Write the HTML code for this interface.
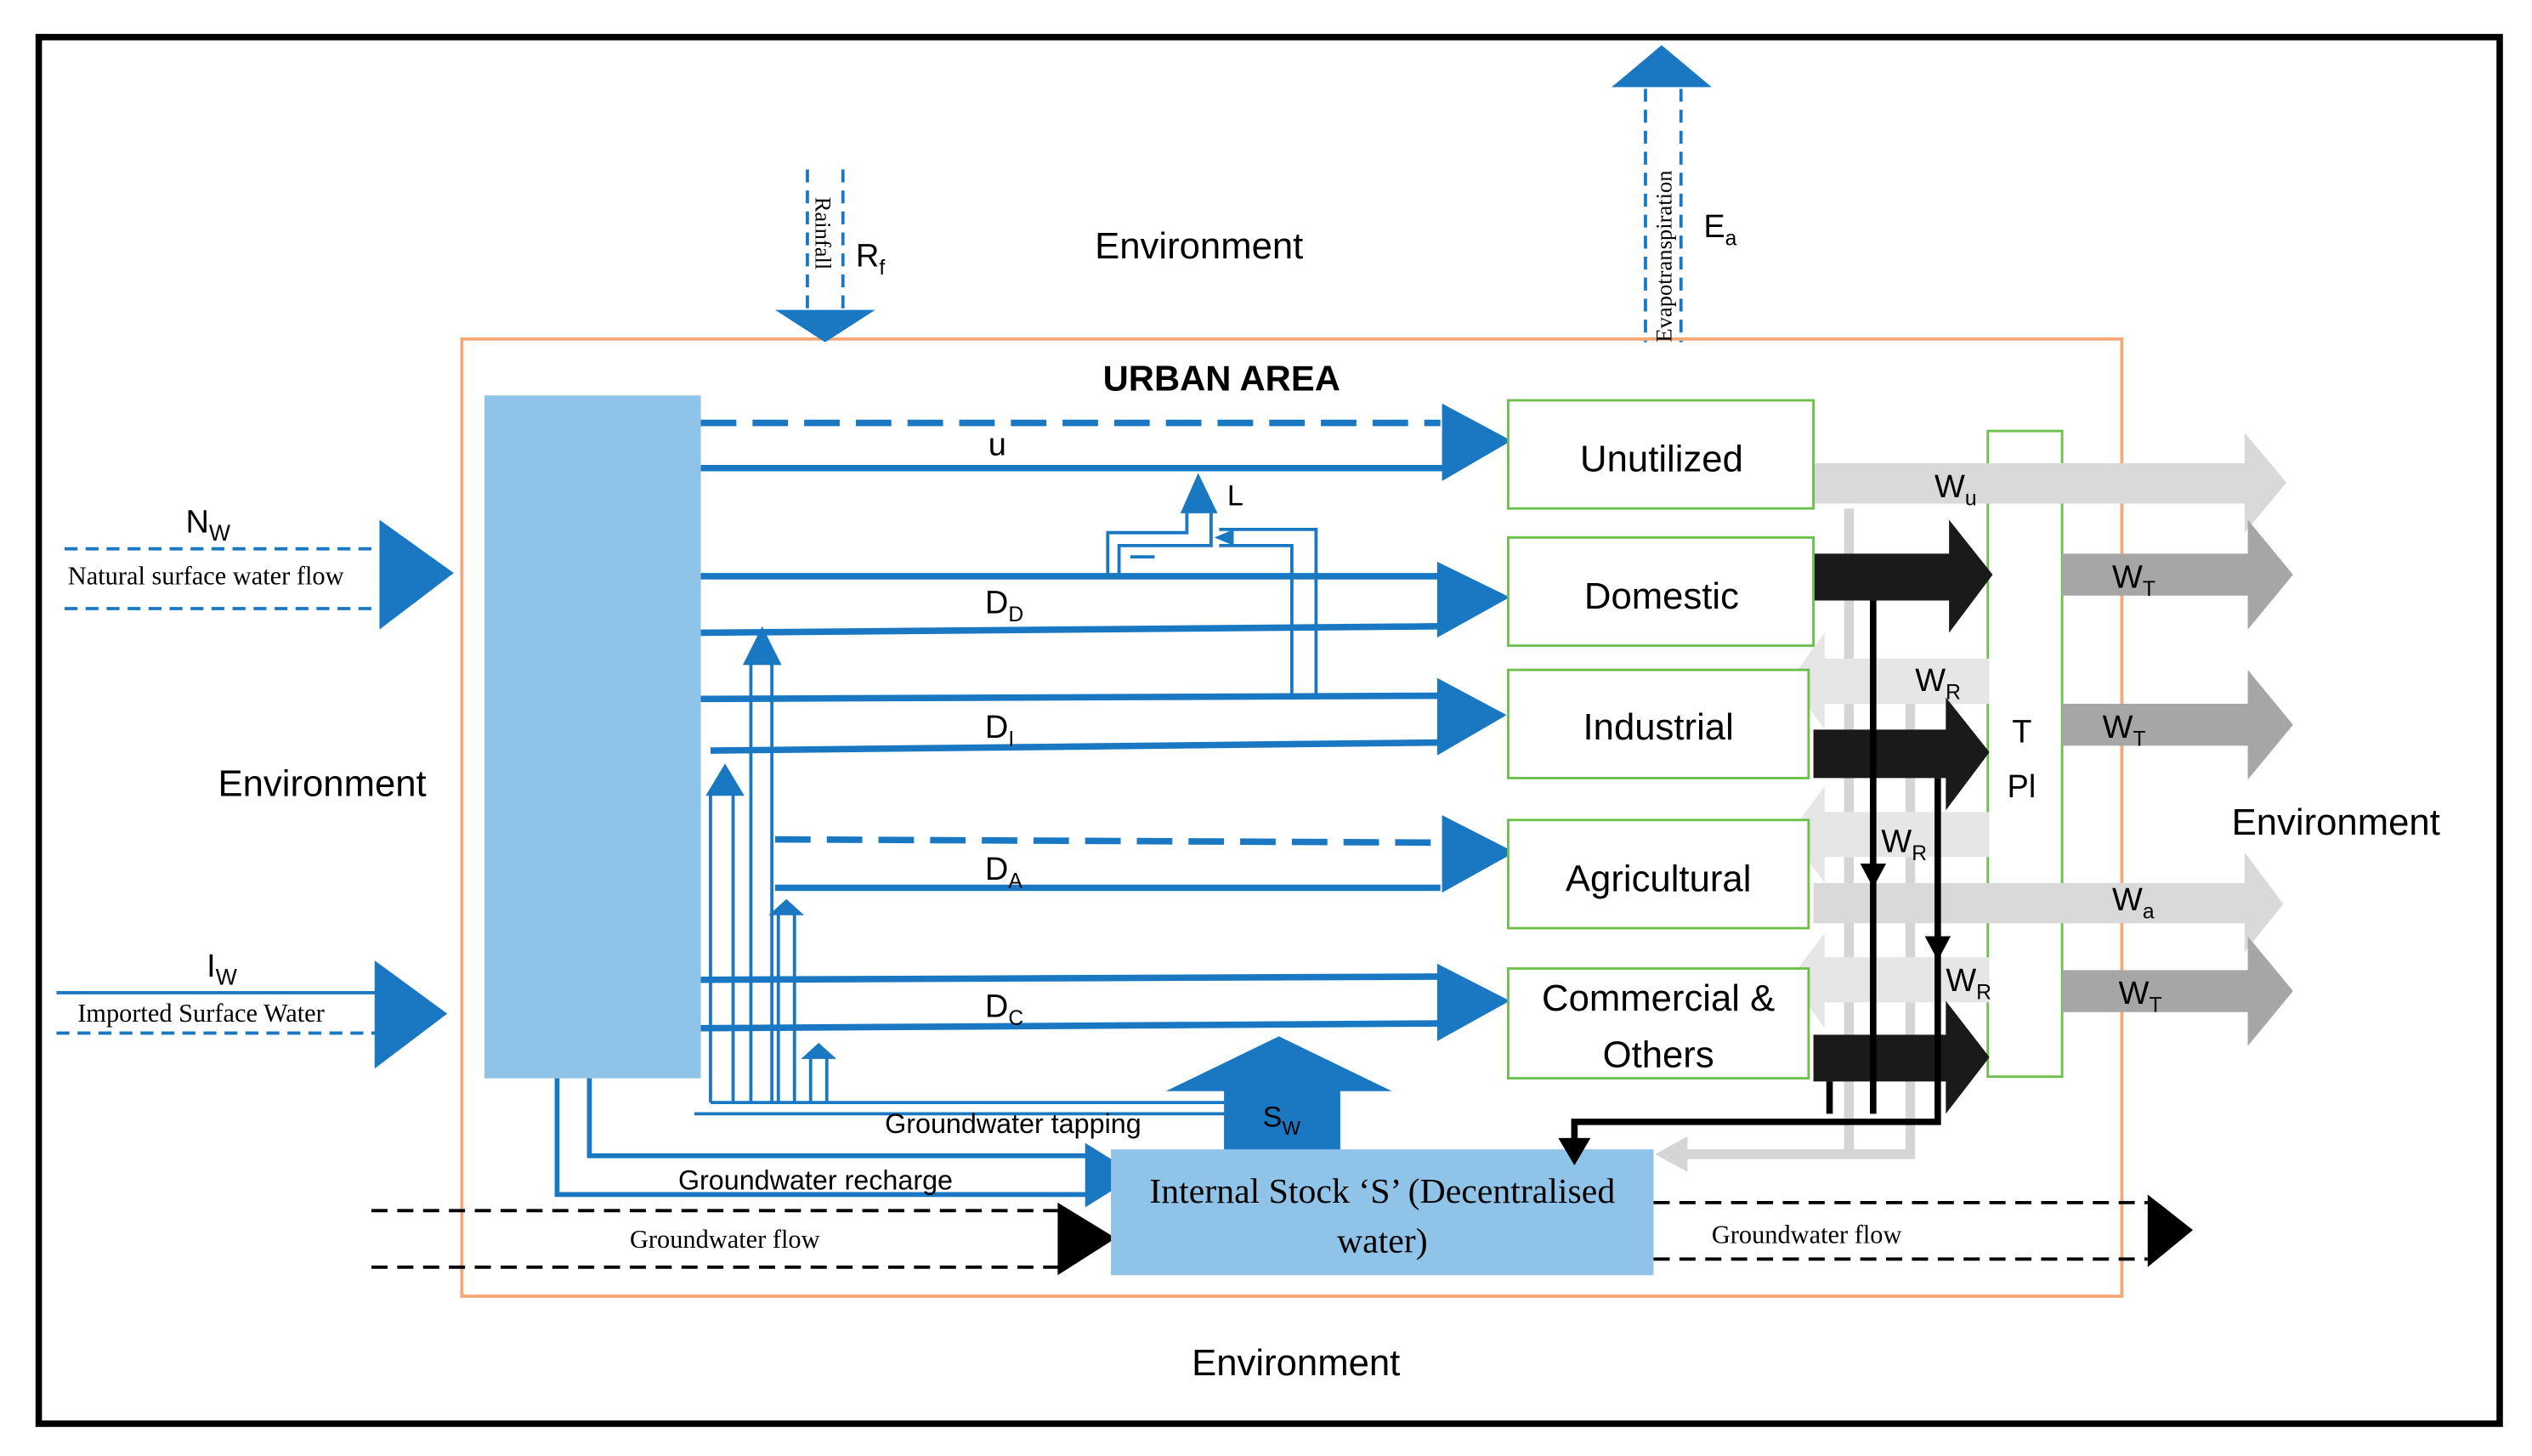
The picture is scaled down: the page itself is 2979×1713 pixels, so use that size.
<!DOCTYPE html>
<html><head><meta charset="utf-8"><style>
html,body{margin:0;padding:0;background:#fff;}
svg{display:block;}
text{font-family:"Liberation Sans",sans-serif;}
.s{font-family:"Liberation Serif",serif;}
</style></head><body>
<svg width="2979" height="1713" viewBox="0 0 1568 902" preserveAspectRatio="none" xmlns="http://www.w3.org/2000/svg">
<rect x="0" y="0" width="1568" height="902" fill="#fff"/>
<rect x="24" y="23" width="1524" height="859" fill="none" stroke="#000" stroke-width="4"/>
<rect x="286" y="210" width="1028" height="593" fill="none" stroke="#f4a878" stroke-width="2"/>

<!-- environment labels -->
<text x="678" y="160" font-size="23">Environment</text>
<text x="135" y="493" font-size="23">Environment</text>
<text x="1382" y="517" font-size="23">Environment</text>
<text x="738" y="852" font-size="23">Environment</text>
<text x="683" y="242" font-size="22" font-weight="bold">URBAN AREA</text>

<!-- Rainfall -->
<g stroke="#1a78c2" stroke-width="2" stroke-dasharray="8,5">
<line x1="500" y1="105" x2="500" y2="192"/><line x1="522" y1="105" x2="522" y2="192"/>
</g>
<polygon points="480,192 542,192 511,212" fill="#1a78c2"/>
<text class="s" x="0" y="0" font-size="14" transform="translate(505,122) rotate(90)">Rainfall</text>
<text x="530" y="165" font-size="20">R<tspan font-size="13" dy="5">f</tspan></text>

<!-- Evapotranspiration -->
<g stroke="#1a78c2" stroke-width="2" stroke-dasharray="8,5">
<line x1="1019" y1="55" x2="1019" y2="212"/><line x1="1041" y1="55" x2="1041" y2="212"/>
</g>
<polygon points="998,54 1060,54 1029,28" fill="#1a78c2"/>
<text class="s" x="0" y="0" font-size="14" transform="translate(1035,212) rotate(-90)">Evapotranspiration</text>
<text x="1055" y="147" font-size="20">E<tspan font-size="13" dy="5">a</tspan></text>

<!-- Nw -->
<g stroke="#1a78c2" stroke-width="2" stroke-dasharray="8,5">
<line x1="40" y1="340" x2="236" y2="340"/><line x1="40" y1="377" x2="236" y2="377"/>
</g>
<polygon points="235,322 281,355 235,390" fill="#1a78c2"/>
<text x="115" y="330" font-size="20">N<tspan font-size="14" dy="5">W</tspan></text>
<text class="s" x="42" y="362" font-size="16">Natural surface water flow</text>

<!-- Iw -->
<line x1="35" y1="615" x2="236" y2="615" stroke="#1a78c2" stroke-width="2"/>
<line x1="35" y1="640" x2="236" y2="640" stroke="#1a78c2" stroke-width="2" stroke-dasharray="8,5"/>
<polygon points="232,595 277,628 232,662" fill="#1a78c2"/>
<text x="128" y="605" font-size="20">I<tspan font-size="14" dy="5">W</tspan></text>
<text class="s" x="48" y="633" font-size="16">Imported Surface Water</text>

<!-- source block -->
<rect x="300" y="245" width="134" height="423" fill="#8fc3e8"/>

<!-- flow lines -->
<g stroke="#1a78c2" stroke-width="4">
<line x1="434" y1="262" x2="892" y2="262" stroke-dasharray="22,10"/>
<line x1="434" y1="290" x2="895" y2="290"/>
<line x1="434" y1="357" x2="892" y2="357"/>
<line x1="434" y1="392" x2="892" y2="388"/>
<line x1="434" y1="433" x2="892" y2="431"/>
<line x1="440" y1="465" x2="892" y2="460"/>
<line x1="480" y1="520" x2="892" y2="522" stroke-dasharray="22,10"/>
<line x1="480" y1="550" x2="892" y2="550"/>
<line x1="434" y1="607" x2="892" y2="605"/>
<line x1="434" y1="637" x2="892" y2="634"/>
</g>
<g fill="#1a78c2">
<polygon points="893,250 936,273 893,298"/>
<polygon points="890,348 935,370 890,395"/>
<polygon points="890,420 933,443 890,468"/>
<polygon points="893,505 938,528 893,553"/>
<polygon points="890,597 935,620 890,645"/>
</g>
<text x="612" y="282" font-size="20">u</text>
<text x="610" y="380" font-size="20">D<tspan font-size="13" dy="5">D</tspan></text>
<text x="610" y="457" font-size="20">D<tspan font-size="13" dy="5">I</tspan></text>
<text x="610" y="545" font-size="20">D<tspan font-size="13" dy="5">A</tspan></text>
<text x="610" y="630" font-size="20">D<tspan font-size="13" dy="5">C</tspan></text>

<!-- L feedback -->
<g stroke="#1a78c2" stroke-width="2" fill="none">
<polyline points="686,357 686,330 735,330 735,318"/>
<polyline points="693,357 693,338 750,338 750,318"/>
<polyline points="800,431 800,338 755,338"/>
<polyline points="815,431 815,328 755,328"/>
<polyline points="700,345 715,345"/>
</g>
<polygon points="731,318 754,318 742,293" fill="#1a78c2"/>
<polygon points="752,333 764,328 764,338" fill="#1a78c2"/>
<text x="760" y="313" font-size="18">L</text>

<!-- groundwater tapping risers -->
<g stroke="#1a78c2" stroke-width="2" fill="none">
<line x1="440" y1="683" x2="440" y2="490"/>
<line x1="454" y1="683" x2="454" y2="490"/>
<line x1="465" y1="683" x2="465" y2="408"/>
<line x1="478" y1="683" x2="478" y2="408"/>
<line x1="482" y1="683" x2="482" y2="565"/>
<line x1="492" y1="683" x2="492" y2="565"/>
<line x1="502" y1="683" x2="502" y2="655"/>
<line x1="512" y1="683" x2="512" y2="655"/>
<line x1="440" y1="683" x2="760" y2="683"/>
<line x1="430" y1="690" x2="760" y2="690"/>
</g>
<g fill="#1a78c2">
<polygon points="437,493 461,493 449,473"/>
<polygon points="460,412 484,412 472,388"/>
<polygon points="476,567 498,567 487,557"/>
<polygon points="496,656 518,656 507,646"/>
</g>
<text x="548" y="702" font-size="17">Groundwater tapping</text>

<!-- recharge -->
<g stroke="#1a78c2" stroke-width="3" fill="none">
<polyline points="345,668 345,740 680,740"/>
<polyline points="365,668 365,716 680,716"/>
</g>
<polygon points="672,708 704,728 672,748" fill="#1a78c2"/>
<text x="420" y="737" font-size="17">Groundwater recharge</text>

<!-- Sw arrow -->
<rect x="758" y="674" width="72" height="40" fill="#1a78c2"/>
<polygon points="722,676 792,642 862,676" fill="#1a78c2"/>
<text x="782" y="698" font-size="18">S<tspan font-size="12" dy="5">W</tspan></text>

<!-- groundwater flow -->
<g stroke="#000" stroke-width="2" stroke-dasharray="10,6">
<line x1="230" y1="750" x2="656" y2="750"/><line x1="230" y1="785" x2="656" y2="785"/>
<line x1="1024" y1="745" x2="1330" y2="745"/><line x1="1024" y1="780" x2="1330" y2="780"/>
</g>
<polygon points="655,745 691,767 655,790" fill="#000"/>
<polygon points="1330,740 1358,762 1330,785" fill="#000"/>
<text class="s" x="390" y="773" font-size="16">Groundwater flow</text>
<text class="s" x="1060" y="770" font-size="16">Groundwater flow</text>

<!-- internal stock -->
<rect x="688" y="712" width="336" height="78" fill="#8fc3e8"/>
<text class="s" x="856" y="745" font-size="22" text-anchor="middle">Internal Stock ‘S’ (Decentralised</text>
<text class="s" x="856" y="776" font-size="22" text-anchor="middle">water)</text>

<!-- gray lines back -->
<g stroke="#d5d5d5" stroke-width="6" fill="none">
<line x1="1145" y1="315" x2="1145" y2="715"/>
<polyline points="1183,430 1183,715 1040,715"/>
</g>
<polygon points="1045,704 1045,726 1025,715" fill="#d5d5d5"/>

<!-- TPl box -->
<rect x="1231" y="267" width="46" height="400" fill="none" stroke="#6cc04a" stroke-width="1.5"/>
<text x="1246" y="460" font-size="20">T</text>
<text x="1243" y="494" font-size="20">Pl</text>

<!-- output arrows gray -->
<g fill="#d9d9d9">
<polygon points="1123,287 1390,287 1390,268 1416,299 1390,330 1390,312 1123,312"/>
<polygon points="1123,547 1390,547 1390,528 1414,560 1390,590 1390,572 1123,572"/>
</g>
<g fill="#a6a6a6">
<polygon points="1277,343 1392,343 1392,322 1420,356 1392,390 1392,369 1277,369"/>
<polygon points="1277,436 1392,436 1392,415 1420,449 1392,483 1392,462 1277,462"/>
<polygon points="1277,601 1392,601 1392,580 1420,614 1392,648 1392,627 1277,627"/>
</g>
<text x="1198" y="308" font-size="20">W<tspan font-size="13" dy="5">u</tspan></text>
<text x="1308" y="564" font-size="20">W<tspan font-size="13" dy="5">a</tspan></text>
<text x="1308" y="364" font-size="20">W<tspan font-size="13" dy="5">T</tspan></text>
<text x="1302" y="457" font-size="20">W<tspan font-size="13" dy="5">T</tspan></text>
<text x="1312" y="622" font-size="20">W<tspan font-size="13" dy="5">T</tspan></text>

<!-- WR left arrows -->
<g fill="#e6e6e6">
<polygon points="1232,408 1130,408 1130,392 1108,422 1130,452 1130,436 1232,436"/>
<polygon points="1232,503 1130,503 1130,487 1108,517 1130,547 1130,531 1232,531"/>
<polygon points="1232,593 1130,593 1130,578 1108,607 1130,637 1130,621 1232,621"/>
</g>
<text x="1186" y="428" font-size="20">W<tspan font-size="13" dy="5">R</tspan></text>
<text x="1165" y="528" font-size="20">W<tspan font-size="13" dy="5">R</tspan></text>
<text x="1205" y="614" font-size="20">W<tspan font-size="13" dy="5">R</tspan></text>

<!-- black arrows -->
<g fill="#1a1a1a">
<polygon points="1123,343 1207,343 1207,322 1234,356 1207,392 1207,372 1123,372"/>
<polygon points="1123,452 1205,452 1205,432 1232,466 1205,502 1205,482 1123,482"/>
<polygon points="1123,641 1205,641 1205,620 1232,655 1205,690 1205,670 1123,670"/>
</g>
<g stroke="#000" stroke-width="4" fill="none">
<line x1="1160" y1="372" x2="1160" y2="540"/>
<line x1="1200" y1="482" x2="1200" y2="582"/>
<polyline points="1160,540 1160,690"/>
<polyline points="1200,582 1200,695 975,695 975,708"/>
<line x1="1133" y1="670" x2="1133" y2="690"/>
</g>
<polygon points="1152,535 1168,535 1160,550" fill="#000"/>
<polygon points="1192,580 1208,580 1200,595" fill="#000"/>
<polygon points="965,705 985,705 975,722" fill="#000"/>

<!-- sector boxes -->
<g fill="#fff" stroke="#6cc04a" stroke-width="1.5">
<rect x="934" y="248" width="189" height="67"/>
<rect x="934" y="333" width="189" height="67"/>
<rect x="934" y="415" width="186" height="67"/>
<rect x="934" y="508" width="186" height="67"/>
<rect x="934" y="600" width="186" height="68"/>
</g>
<g font-size="23" text-anchor="middle">
<text x="1029" y="292">Unutilized</text>
<text x="1029" y="377">Domestic</text>
<text x="1027" y="458">Industrial</text>
<text x="1027" y="552">Agricultural</text>
<text x="1027" y="626">Commercial &amp;</text>
<text x="1027" y="661">Others</text>
</g>
</svg>
</body></html>
